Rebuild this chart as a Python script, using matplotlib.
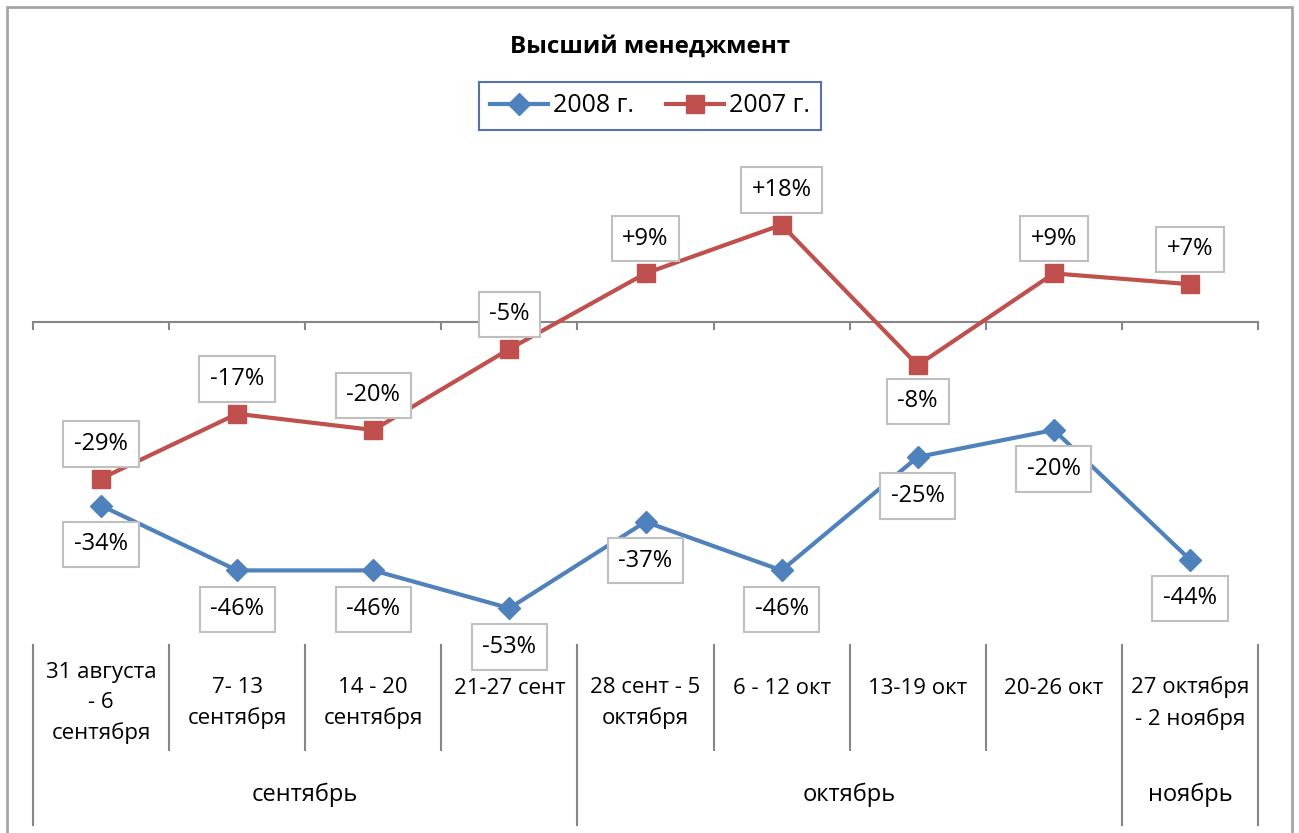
import matplotlib
matplotlib.use("Agg")
import matplotlib.pyplot as plt
import matplotlib.transforms as mtransforms
from matplotlib.patches import Rectangle

plt.rcParams['font.family'] = ['Open Sans', 'DejaVu Sans']

title = "Высший менеджмент"
categories = ["31 августа\n- 6\nсентября", "7- 13\nсентября", "14 - 20\nсентября",
              "21-27 сент", "28 сент - 5\nоктября", "6 - 12 окт", "13-19 окт",
              "20-26 окт", "27 октября\n- 2 ноября"]
months = ["сентябрь", "октябрь", "ноябрь"]
month_spans = [(0, 3), (4, 7), (8, 8)]
series_2008 = [-34, -46, -46, -53, -37, -46, -25, -20, -44]
series_2007 = [-29, -17, -20, -5, 9, 18, -8, 9, 7]
labels_2008 = ["-34%", "-46%", "-46%", "-53%", "-37%", "-46%", "-25%", "-20%", "-44%"]
labels_2007 = ["-29%", "-17%", "-20%", "-5%", "+9%", "+18%", "-8%", "+9%", "+7%"]
pos_2007 = ["above"] * 6 + ["below"] + ["above"] * 2

W, H = 1299, 833
fig = plt.figure(figsize=(W / 100, H / 100), dpi=100)
fig.patch.set_facecolor('white')

def fy(py):
    return 1 - py / H

left, right, top, bottom = 33, 1258, 160, 646
ax = fig.add_axes([left / W, fy(bottom), (right - left) / W, (bottom - top) / H])
ax.set_xlim(-0.5, len(categories) - 0.5)
ax.set_ylim(-60, 30)
ax.set_facecolor('none')

blue = '#4F81BD'
red = '#C0504D'
gray = '#868686'

x = list(range(len(categories)))
ax.plot(x, series_2008, color=blue, lw=3, marker='D', markersize=11, label='2008 г.',
        zorder=3, solid_joinstyle='round')
ax.plot(x, series_2007, color=red, lw=3, marker='s', markersize=13.5, label='2007 г.',
        zorder=3, solid_joinstyle='round')

for s in ['left', 'right', 'top']:
    ax.spines[s].set_visible(False)
ax.spines['bottom'].set_position(('data', 0))
ax.spines['bottom'].set_color(gray)
ax.spines['bottom'].set_linewidth(1.5)
ax.set_yticks([])
ax.set_xticks([i - 0.5 for i in range(len(categories) + 1)])
ax.set_xticklabels([])
ax.tick_params(axis='x', direction='out', length=6, width=1.5, color=gray)

bbox = dict(boxstyle='square,pad=0.45', fc='white', ec='#bfbfbf', lw=1.5)
for i, (v, lab) in enumerate(zip(series_2008, labels_2008)):
    ax.annotate(lab, (i, v), xytext=(0, -28), textcoords='offset points',
                ha='center', va='center', fontsize=17, bbox=bbox, zorder=4)
for i, (v, lab, p) in enumerate(zip(series_2007, labels_2007, pos_2007)):
    off = 25 if p == 'above' else -26
    ax.annotate(lab, (i, v), xytext=(0, off), textcoords='offset points',
                ha='center', va='center', fontsize=17, bbox=bbox, zorder=4)

# multi-level category axis
tr = mtransforms.blended_transform_factory(ax.transData, fig.transFigure)
group_edges = set()
for a, b in month_spans:
    group_edges.add(a - 0.5)
    group_edges.add(b + 0.5)
for i in range(len(categories) + 1):
    xe = i - 0.5
    y2 = 825 if xe in group_edges else 750
    ax.plot([xe, xe], [fy(645), fy(y2)], transform=tr, color=gray, lw=1.5, clip_on=False)
for i, c in enumerate(categories):
    yc = 703 if '\n' in c else 688
    ax.text(i, fy(yc), c, transform=tr, ha='center', va='center', fontsize=16,
            linespacing=1.55, multialignment='center')
for m, (a, b) in zip(months, month_spans):
    ax.text((a + b) / 2, fy(795), m, transform=tr, ha='center', va='center', fontsize=17)

fig.text(650 / W, fy(47), title, ha='center', va='center', fontsize=17.5, fontweight='bold')

leg = fig.legend(loc='center', bbox_to_anchor=(650 / W, fy(106)), ncol=2, fontsize=18,
                 frameon=True, fancybox=False, edgecolor='#2F4F8F', handlelength=2.3,
                 handletextpad=0.2, columnspacing=1.3, borderpad=0.45)
leg.get_frame().set_linewidth(1.5)

fig.patches.append(Rectangle((6.5 / W, fy(845)), (1292 - 6.5) / W, (845 - 7) / H,
                             transform=fig.transFigure, fill=False, ec='#a6a6a6', lw=2))

fig.savefig('out.png', dpi=100)
